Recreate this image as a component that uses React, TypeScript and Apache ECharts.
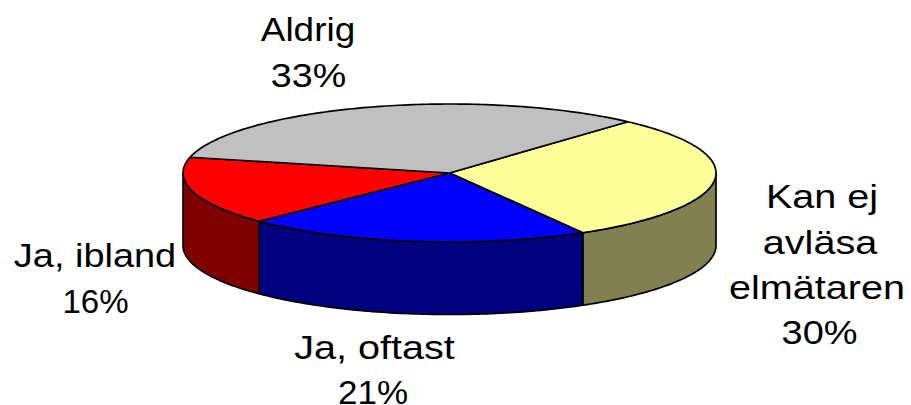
import React, { useEffect, useRef } from "react";
import * as echarts from "echarts";

const categories = ["Kan ej avläsa elmätaren", "Ja, oftast", "Ja, ibland", "Aldrig"];
const values = [30, 21, 16, 33];
const topColors = ["#FFFF99", "#0000FF", "#FF0000", "#C0C0C0"];
const sideColors = ["#808050", "#000080", "#800000", "#606060"];
const labelTexts = ["Aldrig", "33%", "Kan ej", "avläsa", "elmätaren", "30%", "Ja, oftast", "21%", "Ja, ibland", "16%"];
// x centre, y centre, horizontal stretch for each label line
const labelLayout = [
  [308, 29, 1.12],
  [308.5, 75, 1.14],
  [822, 197, 1.2],
  [820, 243, 1.2],
  [817, 288, 1.2],
  [819.5, 333, 1.15],
  [374.5, 348, 1.2],
  [373, 392, 1.06],
  [95, 256, 1.15],
  [95.5, 301, 1.0],
];

const CX = 449.5, CY = 173, RX = 266.5, RY = 69, DEPTH = 72.5, START = 42;
const total = values.reduce((a, b) => a + b, 0);

function pt(deg: number, dy = 0): number[] {
  const r = (deg * Math.PI) / 180;
  return [CX + RX * Math.sin(r), CY - RY * Math.cos(r) + dy];
}
function arcPts(a: number, b: number, dy = 0): number[][] {
  const out: number[][] = [];
  const n = Math.max(2, Math.ceil(Math.abs(b - a)));
  for (let i = 0; i <= n; i++) out.push(pt(a + ((b - a) * i) / n, dy));
  return out;
}

const stroke = { stroke: "#000", lineWidth: 1.7, lineJoin: "round" };

export default function App() {
  const ref = useRef<HTMLDivElement>(null);
  useEffect(() => {
    const chart = echarts.init(ref.current!, undefined, { renderer: "svg" });
    const ranges: number[][] = [];
    let acc = START;
    values.forEach((v) => {
      const sweep = (v / total) * 360;
      ranges.push([acc, acc + sweep]);
      acc += sweep;
    });
    chart.setOption({
      animation: false,
      backgroundColor: "#fff",
      xAxis: { show: false, type: "value", min: 0, max: 911 },
      yAxis: { show: false, type: "value", min: 0, max: 405 },
      grid: { left: 0, right: 0, top: 0, bottom: 0 },
      series: [
        {
          type: "custom",
          coordinateSystem: "none",
          silent: true,
          data: values.map((v, i) => ({ value: v, name: categories[i] })),
          renderItem: (params: any) => {
            const i = params.dataIndex;
            const [a, b] = ranges[i];
            const children: any[] = [];
            const s = Math.max(a, 90), e = Math.min(b, 270);
            if (e > s) {
              const top = arcPts(s, e);
              const bottom = arcPts(s, e, DEPTH).reverse();
              children.push({
                type: "polygon",
                shape: { points: [...top, ...bottom] },
                style: { fill: sideColors[i], ...stroke },
                z2: 1,
              });
            }
            children.push({
              type: "polygon",
              shape: { points: [[CX, CY], ...arcPts(a, b)] },
              style: { fill: topColors[i], ...stroke },
              z2: 2,
            });
            return { type: "group", children };
          },
        },
      ],
      graphic: labelTexts.map((t, i) => ({
        type: "text",
        x: labelLayout[i][0],
        y: labelLayout[i][1],
        scaleX: labelLayout[i][2],
        style: {
          text: t,
          font: '33px "Liberation Sans", Arial, sans-serif',
          lineHeight: 24,
          fill: "#000",
          align: "center",
          verticalAlign: "middle",
        },
      })),
    });
    return () => chart.dispose();
  }, []);
  return <div ref={ref} style={{ position: "fixed", left: 0, top: 0, width: 911, height: 405 }} />;
}
